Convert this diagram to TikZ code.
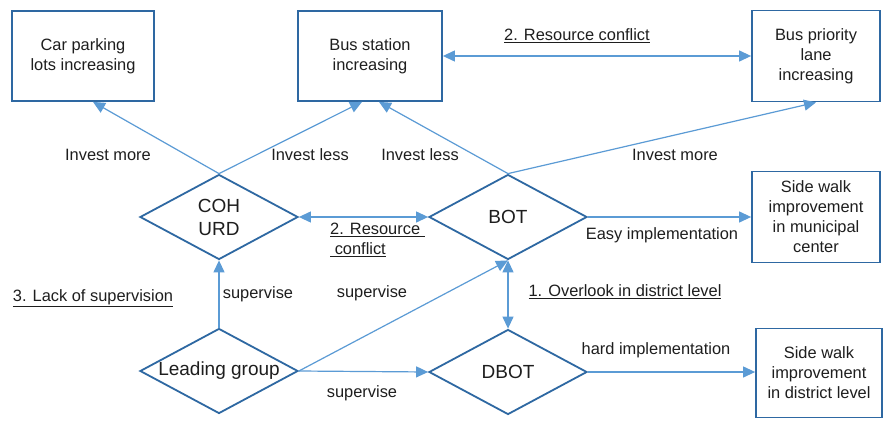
\documentclass[tikz,border=0pt]{standalone}
\usepackage{fontspec}
\setmainfont{Liberation Sans}
\usetikzlibrary{shapes.geometric,arrows.meta}
\definecolor{boxblue}{RGB}{46,104,162}
\definecolor{arrblue}{RGB}{91,155,213}
\definecolor{txt}{RGB}{30,30,30}
\tikzset{
  box/.style={draw=boxblue, line width=1.8pt, rectangle, align=center, inner sep=0pt,
    font=\fontsize{16.4}{20}\selectfont, text=txt},
  diam/.style={draw=boxblue, line width=1.8pt, diamond, inner sep=0pt,
    minimum width=158pt, minimum height=85pt},
  dtext/.style={align=center, font=\fontsize{19}{23}\selectfont, text=txt},
  lab/.style={font=\fontsize{16.4}{20}\selectfont, text=txt, inner sep=0pt},
  conn/.style={draw=arrblue, line width=1.2pt, -{Triangle[length=12pt,width=11pt]}},
  bconn/.style={draw=arrblue, line width=1.2pt, {Triangle[length=12pt,width=11pt]}-{Triangle[length=12pt,width=11pt]}}
}
\begin{document}
\begin{tikzpicture}[x=1pt,y=-1pt]
\useasboundingbox[fill=white] (0,0) rectangle (885,420);
% boxes
\node[box, minimum width=142pt, minimum height=90pt] (car) at (83,56) {Car parking\\lots increasing};
\node[box, minimum width=144pt, minimum height=90pt] (bus) at (370,56) {Bus station\\increasing};
\node[box, minimum width=128pt, minimum height=91pt] (bpl) at (816,56) {Bus priority\\lane\\increasing};
\node[box, minimum width=128pt, minimum height=91pt] (swm) at (816,217) {Side walk\\improvement\\in municipal\\center};
\node[box, minimum width=126pt, minimum height=89pt] (swd) at (819,373) {Side walk\\improvement\\in district level};
% diamonds
\node[diam] (coh) at (219,217) {};
\node[dtext] at (coh.center) {COH\\URD};
\node[diam] (bot) at (508,217) {};
\node[dtext] at (bot.center) {BOT};
\node[diam] (lg) at (219,371) {};
\node[dtext] at (lg.center) {Leading group};
\node[diam] (dbot) at (508,372) {};
\node[dtext] at (dbot.center) {DBOT};
% connectors
\draw[conn] (coh.north) -- ([xshift=10pt]car.south);
\draw[conn] (coh.north) -- ([xshift=-8pt]bus.south);
\draw[conn] (bot.north) -- ([xshift=9pt]bus.south);
\draw[conn] (bot.north) -- (bpl.south);
\draw[bconn] (bus.east) -- (bpl.west);
\draw[bconn] (coh.east) -- (bot.west);
\draw[conn] (bot.east) -- (swm.west);
\draw[bconn] (bot.south) -- (dbot.north);
\draw[conn] (lg.north) -- (coh.south);
\draw[conn] (lg.east) -- (bot.south);
\draw[conn] (lg.east) -- (dbot.west);
\draw[conn] (dbot.east) -- (dbot.east -| swd.west);
% labels
\node[lab] (l1) at (108,155) {Invest more};
\node[lab] (l2) at (310,155) {Invest less};
\node[lab] (l3) at (420,155) {Invest less};
\node[lab] (l4) at (675,155) {Invest more};
\node[lab] (l5) at (577,36) {\underline{2. Resource conflict}};
\node[lab, align=left, anchor=west] (l6) at (330,240) {\underline{2. Resource\ }\\\underline{\ conflict}};
\node[lab] (l7) at (93,298) {\underline{3. Lack of supervision}};
\node[lab] (l8) at (258,294) {supervise};
\node[lab] (l9) at (372,293) {supervise};
\node[lab] (l10) at (362,393) {supervise};
\node[lab] (l11) at (662,235) {Easy implementation};
\node[lab] (l12) at (625,292) {\underline{1. Overlook in district level}};
\node[lab] (l13) at (656,350) {hard implementation};
\end{tikzpicture}
\end{document}
